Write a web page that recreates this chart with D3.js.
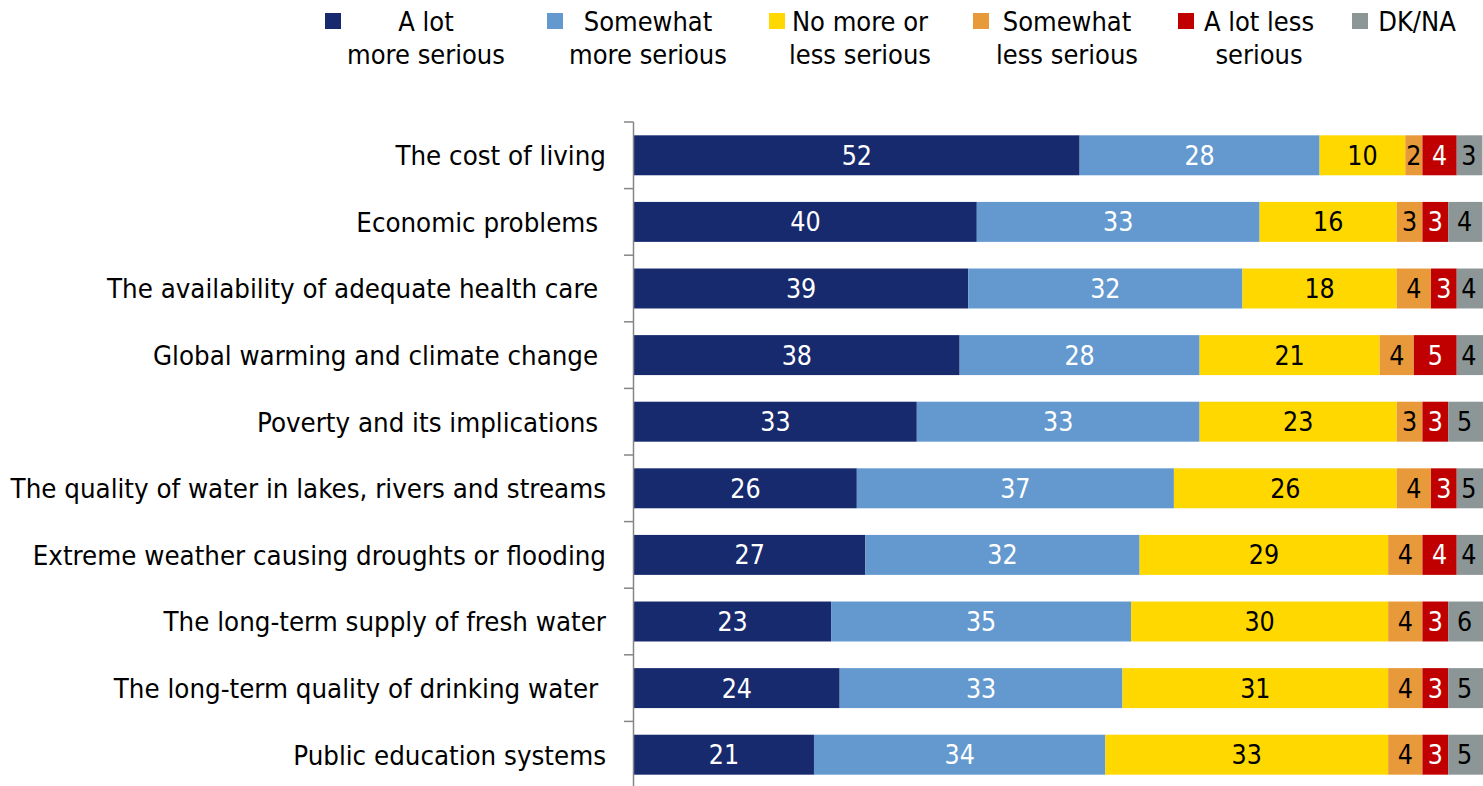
<!DOCTYPE html>
<html>
<head>
<meta charset="utf-8">
<script src="https://cdn.jsdelivr.net/npm/d3@7"></script>
<style>
  html, body { margin: 0; padding: 0; background: #fff; overflow: hidden; }
  svg { display: block; }
  text { font-family: "DejaVu Sans Condensed", "DejaVu Sans", sans-serif; font-stretch: condensed; white-space: pre; }
</style>
</head>
<body>
<svg id="chart" width="1483" height="786"></svg>
<script>
// Issues rated by how much more/less serious they have become (%)
const categories = [
  "The cost of living",
  "Economic problems ",
  "The availability of adequate health care ",
  "Global warming and climate change ",
  "Poverty and its implications ",
  "The quality of water in lakes, rivers and streams",
  "Extreme weather causing droughts or flooding",
  "The long-term supply of fresh water",
  "The long-term quality of drinking water ",
  "Public education systems"
];
const seriesNames = [
  "A lot\nmore serious",
  "Somewhat\nmore serious",
  "No more or\nless serious",
  "Somewhat\nless serious",
  "A lot less\nserious",
  "DK/NA"
];
const aLotMore     = [52, 40, 39, 38, 33, 26, 27, 23, 24, 21];
const somewhatMore = [28, 33, 32, 28, 33, 37, 32, 35, 33, 34];
const noMoreOrLess = [10, 16, 18, 21, 23, 26, 29, 30, 31, 33];
const somewhatLess = [ 2,  3,  4,  4,  3,  4,  4,  4,  4,  4];
const aLotLess     = [ 4,  3,  3,  5,  3,  3,  4,  3,  3,  3];
const dkna         = [ 3,  4,  4,  4,  5,  5,  4,  6,  5,  5];

const seriesValues = [aLotMore, somewhatMore, noMoreOrLess, somewhatLess, aLotLess, dkna];
const colors     = ["#172a6e", "#6399cf", "#ffd800", "#e8993a", "#c00000", "#8c9696"];
const textColors = ["#ffffff", "#ffffff", "#000000", "#000000", "#ffffff", "#000000"];

const W = 1483;
const svg = d3.select("#chart");

const rows = categories.map((c, i) => {
  let acc = 0;
  const segs = seriesValues.map((vals, s) => {
    const seg = { cat: c, s, v: vals[i], x0: acc, x1: acc + vals[i] };
    acc += vals[i];
    return seg;
  });
  return { cat: c, segs };
});

const x = d3.scaleLinear().domain([0, 100]).range([634, 1491]);
const y = d3.scaleBand().domain(categories).range([122, 788])
  .paddingInner(0.4).paddingOuter(0.2);

// stacked bars
const rowG = svg.append("g").selectAll("g").data(rows).join("g")
  .attr("transform", d => `translate(0,${y(d.cat)})`);

rowG.selectAll("rect").data(d => d.segs).join("rect")
  .attr("x", d => x(d.x0))
  .attr("width", d => x(d.x1) - x(d.x0))
  .attr("y", 0)
  .attr("height", y.bandwidth())
  .attr("fill", d => colors[d.s]);

// value labels centred on the visible part of each segment
rowG.selectAll("text").data(d => d.segs).join("text")
  .attr("x", d => (x(d.x0) + Math.min(x(d.x1), W - 2)) / 2)
  .attr("y", y.bandwidth() / 2)
  .attr("dy", "0.36em")
  .attr("text-anchor", "middle")
  .attr("font-size", 26.5)
  .attr("fill", d => textColors[d.s])
  .text(d => d.v);

// category axis with ticks on band boundaries
const axisG = svg.append("g");
const step = y.step();
const boundaries = d3.range(categories.length + 1).map(i => y(categories[0]) - y.paddingOuter() * step + i * step);
axisG.append("line")
  .attr("x1", 633.5).attr("x2", 633.5)
  .attr("y1", boundaries[0]).attr("y2", boundaries[boundaries.length - 1])
  .attr("stroke", "#868686").attr("stroke-width", 1.5);
axisG.selectAll("line.tick").data(boundaries).join("line")
  .attr("class", "tick")
  .attr("x1", 624).attr("x2", 633.5)
  .attr("y1", d => d).attr("y2", d => d)
  .attr("stroke", "#868686").attr("stroke-width", 1.5);

axisG.selectAll("text.cat").data(categories).join("text")
  .attr("class", "cat")
  .attr("x", 606)
  .attr("y", d => y(d) + y.bandwidth() / 2)
  .attr("dy", "0.36em")
  .attr("text-anchor", "end")
  .attr("font-size", 27.4)
  .attr("fill", "#000")
  .text(d => d);

// legend
const legendSquareX = [325, 547, 769, 973, 1178, 1352];
const legendTextCenter = [426, 648, 860, 1067, 1259, 1417];
const legend = svg.append("g");
seriesNames.forEach((name, i) => {
  legend.append("rect")
    .attr("x", legendSquareX[i]).attr("y", 13)
    .attr("width", 16).attr("height", 16)
    .attr("fill", colors[i]);
  const t = legend.append("text")
    .attr("text-anchor", "middle")
    .attr("font-size", 27)
    .attr("fill", "#000");
  name.split("\n").forEach((line, k) => {
    t.append("tspan")
      .attr("x", legendTextCenter[i])
      .attr("y", 31 + k * 33)
      .text(line);
  });
});
</script>
</body>
</html>
